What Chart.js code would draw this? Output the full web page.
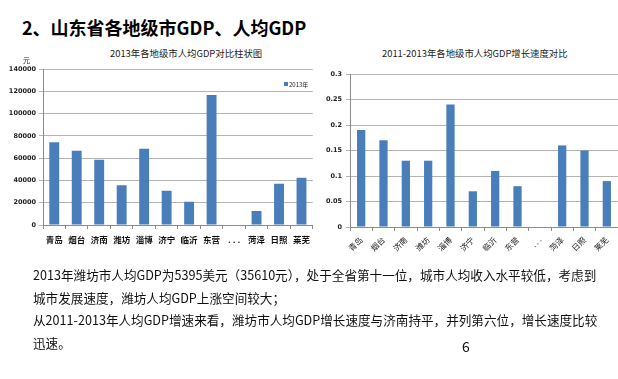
<!DOCTYPE html>
<html>
<head>
<meta charset="utf-8">
<script src="https://cdn.jsdelivr.net/npm/chart.js@4.4.1/dist/chart.umd.min.js"></script>
<style>
  html, body { margin: 0; padding: 0; background: #fff; }
  #page { position: relative; width: 618px; height: 379px; overflow: hidden; background: #fff;
          font-family: "Noto Sans CJK SC", "Noto Sans", sans-serif; color: #111; }
  .abs { position: absolute; white-space: nowrap; }
  #heading { left: 22px; top: 15px; font-size: 18px; font-weight: 700; line-height: 24px; color: #000; }
  .ctitle { font-size: 9.4px; line-height: 12px; color: #222; }
  #t1 { left: 110px; top: 47px; }
  #t2 { left: 382px; top: 47px; }
  #unit { left: 23px; top: 56px; font-size: 7px; line-height: 8px; color: #222; }
  #legend { left: 284px; top: 81px; font-size: 6px; line-height: 8px; color: #222; }
  #legend span { display: inline-block; width: 4px; height: 4px; background: #4a7ebb; margin-right: 1px; vertical-align: 1px; }
  #text { left: 33px; top: 264px; font-size: 12.6px; line-height: 22.6px; color: #111; }
  #pnum { left: 462px; top: 337px; font-size: 14px; line-height: 18px; color: #111; }
  #c1wrap { left: 0; top: 60px; width: 316px; height: 200px; }
  #c2wrap { left: 316px; top: 60px; width: 302px; height: 210px; background: #fff; }
</style>
</head>
<body>
<div id="page">
  <div id="heading" class="abs">2、山东省各地级市GDP、人均GDP</div>
  <div id="t1" class="abs ctitle">2013年各地级市人均GDP对比柱状图</div>
  <div id="t2" class="abs ctitle">2011-2013年各地级市人均GDP增长速度对比</div>
  <div id="c1wrap" class="abs"><canvas id="c1" width="316" height="200"></canvas></div>
  <div id="c2wrap" class="abs"><canvas id="c2" width="302" height="210"></canvas></div>
  <div id="unit" class="abs">元</div>
  <div id="legend" class="abs"><span></span>2013年</div>
  <div id="text" class="abs">2013年潍坊市人均GDP为5395美元（35610元），处于全省第十一位，城市人均收入水平较低，考虑到<br>城市发展速度，潍坊人均GDP上涨空间较大；<br>从2011-2013年人均GDP增速来看，潍坊市人均GDP增长速度与济南持平，并列第六位，增长速度比较<br>迅速。</div>
  <div id="pnum" class="abs">6</div>
</div>
<script>
// ---- data ----
const cities = ['青岛', '烟台', '济南', '潍坊', '淄博', '济宁', '临沂', '东营', '. . .', '菏泽', '日照', '莱芜'];
const gdp2013 = [74300, 66600, 58500, 35610, 68400, 30700, 20900, 116700, null, 12500, 37000, 42400];
const growth = [0.19, 0.17, 0.13, 0.13, 0.24, 0.07, 0.11, 0.08, null, 0.16, 0.15, 0.09];
const gdpTickMax = 140000, gdpTickStep = 20000;
const growthTickMax = 0.3, growthTickStep = 0.05;
const seriesName = '2013年';

const BAR = '#4a7ebb';
const GRID = '#b4b4b4';
const AXIS = '#8c8c8c';
const tickFont = { family: 'DejaVu Sans', size: 6.5, weight: 'bold' };

new Chart(document.getElementById('c1'), {
  type: 'bar',
  data: { labels: cities, datasets: [{ label: seriesName, data: gdp2013, backgroundColor: BAR,
          barPercentage: 0.44, categoryPercentage: 1 }] },
  options: {
    responsive: false, devicePixelRatio: 1, animation: false,
    layout: { padding: { top: 9, left: 0, right: 0, bottom: 0 } },
    plugins: { legend: { display: false }, tooltip: { enabled: false } },
    scales: {
      x: {
        grid: { display: true, drawOnChartArea: false, drawTicks: true, tickLength: 4, color: AXIS },
        border: { color: AXIS },
        ticks: { color: '#111', padding: 6, maxRotation: 0, autoSkip: false,
                 font: { family: 'Noto Sans CJK SC', size: 8.5, weight: 'bold' } },
        afterFit: s => { s.height = 35; }
      },
      y: {
        min: 0, max: gdpTickMax,
        grid: { color: GRID, tickLength: 4, drawTicks: true },
        border: { color: AXIS },
        ticks: { stepSize: gdpTickStep, color: '#222', padding: 3, font: tickFont,
                 callback: v => String(v) },
        afterFit: s => { s.width = 43; }
      }
    }
  }
});

new Chart(document.getElementById('c2'), {
  type: 'bar',
  data: { labels: cities, datasets: [{ label: '增长速度', data: growth, backgroundColor: BAR,
          barPercentage: 0.37, categoryPercentage: 1 }] },
  options: {
    responsive: false, devicePixelRatio: 1, animation: false,
    layout: { padding: { top: 14, left: 0, right: 0, bottom: 0 } },
    plugins: { legend: { display: false }, tooltip: { enabled: false } },
    scales: {
      x: {
        grid: { display: true, drawOnChartArea: false, drawTicks: true, tickLength: 4, color: AXIS },
        border: { color: AXIS },
        ticks: { color: '#222', padding: 4, minRotation: 45, maxRotation: 45, autoSkip: false,
                 font: { family: 'Noto Sans CJK SC', size: 8 } },
        afterFit: s => { s.height = 43; }
      },
      y: {
        min: 0, max: growthTickMax,
        grid: { color: GRID, tickLength: 4, drawTicks: true },
        border: { color: AXIS },
        ticks: { stepSize: growthTickStep, color: '#222', padding: 4, font: tickFont,
                 callback: v => String(+v.toFixed(2)) },
        afterFit: s => { s.width = 34; }
      }
    }
  }
});
</script>
</body>
</html>
